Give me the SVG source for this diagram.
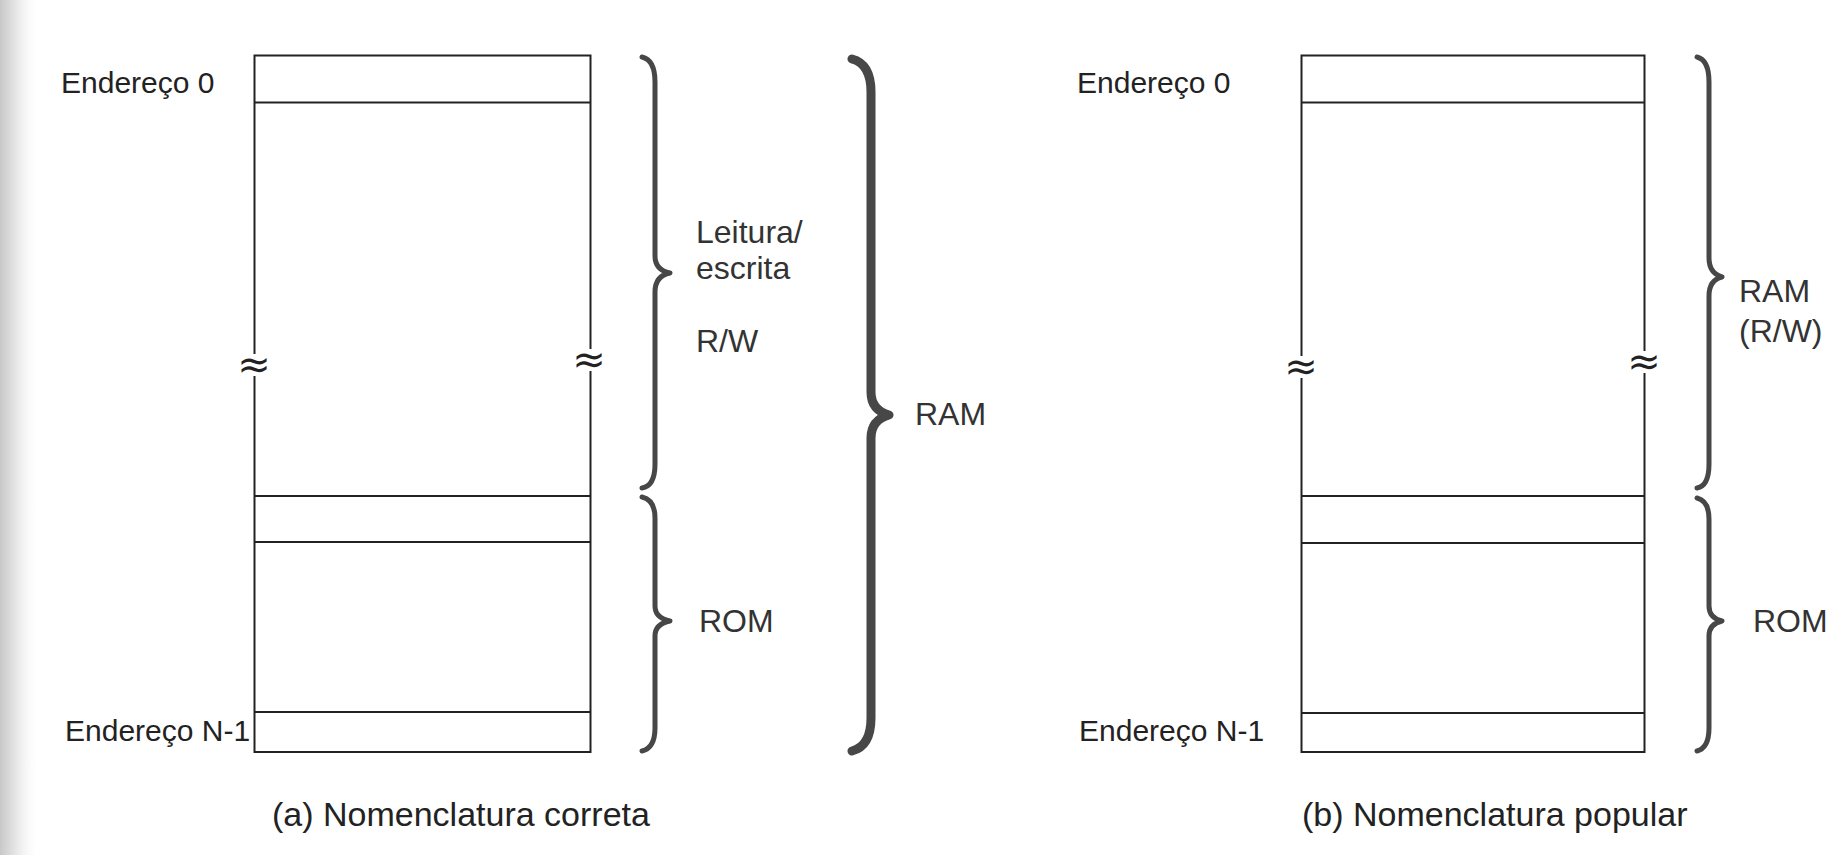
<svg xmlns="http://www.w3.org/2000/svg" width="1848" height="855" viewBox="0 0 1848 855">
<defs>
<linearGradient id="edge" x1="0" y1="0" x2="1" y2="0">
<stop offset="0" stop-color="#c8c8c8"/>
<stop offset="0.4" stop-color="#e6e6e6"/>
<stop offset="1" stop-color="#ffffff" stop-opacity="0"/>
</linearGradient>
</defs>
<style>
.box{fill:#fff;stroke:#222;stroke-width:2}
.row{stroke:#222;stroke-width:2}
.lbl{font-family:"Liberation Sans",Arial,sans-serif;font-size:30px;fill:#222}
.big{font-family:"Liberation Sans",Arial,sans-serif;font-size:32px;fill:#333}
.cap{font-family:"Liberation Sans",Arial,sans-serif;font-size:34px;fill:#222}
.brace{fill:none;stroke:#474747;stroke-width:5;stroke-linecap:round;stroke-linejoin:round}
.brace-big{fill:none;stroke:#474747;stroke-width:9;stroke-linecap:round;stroke-linejoin:round}
.gap{fill:#fff}
.wave{font-family:"DejaVu Sans",sans-serif;font-size:40px;fill:#222;text-anchor:middle}
</style>
<rect width="1848" height="855" fill="#fff"/>
<rect x="0" y="0" width="40" height="855" fill="url(#edge)"/>

<g id="memA">
<rect class="box" x="254.5" y="55.5" width="336" height="696.5"/>
<line class="row" x1="254.5" y1="102.5" x2="590.5" y2="102.5"/>
<line class="row" x1="254.5" y1="496" x2="590.5" y2="496"/>
<line class="row" x1="254.5" y1="542" x2="590.5" y2="542"/>
<line class="row" x1="254.5" y1="712" x2="590.5" y2="712"/>
<rect class="gap" x="240" y="354" width="30" height="22"/>
<rect class="gap" x="574" y="349" width="32" height="22"/>
<text class="wave" x="254" y="378">≈</text>
<text class="wave" x="589" y="373">≈</text>
</g>
<g id="labelsA">
<text class="lbl" x="61" y="93">Endereço 0</text>
<text class="lbl" x="65" y="741">Endereço N-1</text>
<text class="cap" x="272" y="826">(a) Nomenclatura correta</text>
</g>

<g id="connectors">
<path id="braceRW" class="brace" d="M642,57 Q655,60 655,82 L655,256 Q655,270 670,273 Q655,276 655,292 L655,464 Q655,486 642,488"/>
<path id="braceROMa" class="brace" d="M642,497 Q655,500 655,518 L655,606 Q655,618 670,621 Q655,624 655,636 L655,728 Q655,748 642,751"/>
<path id="braceRAM" class="brace-big" d="M852,59 Q871,64 871,92 L871,392 Q871,410 889,415 Q871,420 871,438 L871,718 Q871,746 852,751"/>
<path id="braceRAMb" class="brace" d="M1697,57 Q1709,60 1709,82 L1709,258 Q1709,273 1722,277 Q1709,280 1709,296 L1709,464 Q1709,486 1697,488"/>
<path id="braceROMb" class="brace" d="M1697,498 Q1709,501 1709,519 L1709,606 Q1709,618 1722,621 Q1709,624 1709,636 L1709,728 Q1709,748 1697,751"/>
</g>

<g id="bracketLabelsA">
<text class="big" x="696" y="243">Leitura/</text>
<text class="big" x="696" y="279">escrita</text>
<text class="big" x="696" y="352">R/W</text>
<text class="big" x="699" y="632">ROM</text>
<text class="big" x="915" y="425">RAM</text>
</g>

<g id="memB">
<rect class="box" x="1301.5" y="55.5" width="343" height="696.5"/>
<line class="row" x1="1301.5" y1="102.5" x2="1644.5" y2="102.5"/>
<line class="row" x1="1301.5" y1="496" x2="1644.5" y2="496"/>
<line class="row" x1="1301.5" y1="543" x2="1644.5" y2="543"/>
<line class="row" x1="1301.5" y1="713" x2="1644.5" y2="713"/>
<rect class="gap" x="1286" y="356" width="30" height="22"/>
<rect class="gap" x="1628" y="351" width="32" height="22"/>
<text class="wave" x="1301" y="380">≈</text>
<text class="wave" x="1644" y="375">≈</text>
</g>
<g id="labelsB">
<text class="lbl" x="1077" y="93">Endereço 0</text>
<text class="lbl" x="1079" y="741">Endereço N-1</text>
<text class="cap" x="1302" y="826">(b) Nomenclatura popular</text>
<text class="big" x="1739" y="302">RAM</text>
<text class="big" x="1739" y="342">(R/W)</text>
<text class="big" x="1753" y="632">ROM</text>
</g>
</svg>
